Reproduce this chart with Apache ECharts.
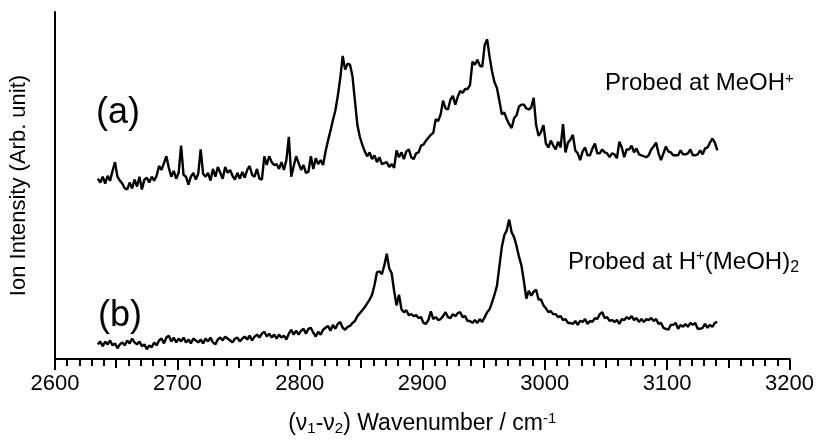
<!DOCTYPE html>
<html>
<head>
<meta charset="utf-8">
<script src="https://cdn.jsdelivr.net/npm/echarts@6/dist/echarts.min.js"></script>
<style>
html,body{margin:0;padding:0;background:#fff;}
#chart{width:817px;height:441px;}
</style>
</head>
<body>
<div id="chart"></div>
<script>
// Wavenumber grid (cm-1)
const wavenumber = [
2635,2637,2639,2641,2643,2645,2647,2649,2651,2653,
2655,2657,2659,2661,2663,2665,2667,2669,2671,2673,
2675,2677,2679,2681,2683,2685,2687,2689,2691,2693,
2695,2697,2699,2701,2703,2705,2707,2709,2711,2713,
2715,2717,2719,2721,2723,2725,2727,2729,2731,2733,
2735,2737,2739,2741,2743,2745,2747,2749,2751,2753,
2755,2757,2759,2761,2763,2765,2767,2769,2771,2773,
2775,2777,2779,2781,2783,2785,2787,2789,2791,2793,
2795,2797,2799,2801,2803,2805,2807,2809,2811,2813,
2815,2817,2819,2821,2823,2825,2827,2829,2831,2833,
2835,2837,2839,2841,2843,2845,2847,2849,2851,2853,
2855,2857,2859,2861,2863,2865,2867,2869,2871,2873,
2875,2877,2879,2881,2883,2885,2887,2889,2891,2893,
2895,2897,2899,2901,2903,2905,2907,2909,2911,2913,
2915,2917,2919,2921,2923,2925,2927,2929,2931,2933,
2935,2937,2939,2941,2943,2945,2947,2949,2951,2953,
2955,2957,2959,2961,2963,2965,2967,2969,2971,2973,
2975,2977,2979,2981,2983,2985,2987,2989,2991,2993,
2995,2997,2999,3001,3003,3005,3007,3009,3011,3013,
3015,3017,3019,3021,3023,3025,3027,3029,3031,3033,
3035,3037,3039,3041,3043,3045,3047,3049,3051,3053,
3055,3057,3059,3061,3063,3065,3067,3069,3071,3073,
3075,3077,3079,3081,3083,3085,3087,3089,3091,3093,
3095,3097,3099,3101,3103,3105,3107,3109,3111,3113,
3115,3117,3119,3121,3123,3125,3127,3129,3131,3133,
3135,3137,3139,3141
];

// (a) Probed at MeOH+ (arb. units, offset trace)
const intensityA = [
185,181,187,180,188,183,193,202,187,183,
180,175,174,181,175,184,177,187,174,184,
186,181,187,183,188,198,194,201,208,196,
187,193,185,191,219,189,187,179,187,191,
184,190,215,190,187,191,183,195,187,197,
191,185,197,191,194,188,184,191,185,192,
186,194,198,189,187,195,185,184,208,199,
208,202,199,200,195,202,194,204,228,187,
198,208,201,194,199,191,192,208,195,206,
200,204,199,213,224,234,245,255,270,288,
311,297,303,302,290,265,240,228,220,213,
208,212,205,209,202,207,200,201,202,197,
200,196,214,207,212,205,213,215,207,205,
211,212,219,220,224,227,230,232,246,244,
251,265,257,256,266,270,261,269,275,273,
277,277,281,305,302,307,301,300,322,328,
310,295,284,278,265,251,253,246,241,237,
247,250,259,261,261,257,256,258,268,240,
229,233,240,221,217,224,219,215,223,217,
241,212,222,225,230,214,211,204,213,217,
209,209,216,221,211,211,215,212,211,207,
211,210,206,223,217,207,215,215,219,212,
216,210,209,208,207,209,215,218,222,211,
204,211,218,213,212,209,209,209,214,210,
210,211,215,209,209,210,214,210,216,217,
222,226,222,214
];

// (b) Probed at H+(MeOH)2
const intensityB = [
15,18,13,18,15,19,14,16,11,15,
17,14,19,16,21,17,15,18,13,15,
10,14,12,17,14,19,21,16,22,24,
18,22,17,21,18,22,17,20,16,21,
19,17,20,16,21,18,22,17,15,20,
22,19,23,21,19,17,21,22,18,21,
23,20,24,19,23,25,22,26,28,23,
26,22,25,21,25,22,24,20,26,30,
25,29,25,29,31,26,31,32,27,23,
28,25,30,32,34,29,35,31,36,38,
32,30,33,34,37,39,44,47,50,53,
57,61,66,76,89,90,87,96,108,93,
88,70,55,66,51,48,50,45,46,44,
45,42,43,37,36,40,49,41,43,40,
41,44,48,43,42,46,44,47,48,43,
44,39,39,37,40,37,41,38,43,48,
51,58,66,75,95,115,127,132,143,130,
125,116,105,96,80,62,70,65,69,71,
61,61,55,52,48,49,46,46,43,44,
40,41,37,37,36,39,35,39,38,41,
36,39,38,42,41,46,48,42,43,39,
40,38,40,36,41,40,43,41,44,40,
42,38,41,38,41,40,42,39,41,36,
37,32,31,30,35,35,37,31,35,33,
36,33,37,35,37,31,31,32,36,32,
35,33,37,38
];

const xTickMin = 2600, xTickMax = 3200;

const FONT = "'Liberation Sans', Arial, sans-serif";
const chart = echarts.init(document.getElementById('chart'), null, {renderer: 'canvas'});

const seriesA = wavenumber.map((w, i) => [w, intensityA[i]]);
const seriesB = wavenumber.map((w, i) => [w, intensityB[i]]);

const option = {
  animation: false,
  backgroundColor: '#fff',
  grid: {left: 52, right: 27, top: 12, bottom: 73, containLabel: false},
  xAxis: [{
    type: 'value', min: xTickMin, max: xTickMax, interval: 100, position: 'bottom',
    axisLine: {show: true, lineStyle: {color: '#000', width: 2}},
    axisTick: {show: true, inside: false, length: 11, lineStyle: {color: '#000', width: 2}},
    minorTick: {show: true, splitNumber: 10, length: 7, lineStyle: {color: '#000', width: 2}},
    axisLabel: {show: true, color: '#000', fontSize: 22, fontFamily: FONT, margin: 14,
      formatter: function (v) { return String(v); }},
    splitLine: {show: false}, minorSplitLine: {show: false},
    name: '(ν{sub|1}-ν{sub|2}) Wavenumber / cm{sup|-1}',
    nameLocation: 'middle', nameGap: 52,
    nameTextStyle: {color: '#000', fontSize: 23, fontFamily: FONT,
      rich: {
        sub: {fontSize: 15, fontFamily: FONT, color: '#000', verticalAlign: 'bottom', padding: [10, 0, 0, 0]},
        sup: {fontSize: 15, fontFamily: FONT, color: '#000', verticalAlign: 'top', padding: [0, 0, 8, 0]}
      }}
  }, {
    type: 'value', min: xTickMin, max: xTickMax, interval: 50, position: 'bottom',
    axisLine: {show: true, lineStyle: {color: '#000', width: 2}},
    axisTick: {show: true, inside: false, length: 9, lineStyle: {color: '#000', width: 2}},
    axisLabel: {show: false}, splitLine: {show: false}
  }],
  yAxis: {
    type: 'value', min: 0, max: 356,
    axisLine: {show: true, lineStyle: {color: '#000', width: 2}},
    axisTick: {show: false}, axisLabel: {show: false}, splitLine: {show: false},
    name: 'Ion Intensity (Arb. unit)', nameLocation: 'middle', nameGap: 25, nameRotate: 90,
    nameTextStyle: {color: '#000', fontSize: 22, fontFamily: FONT}
  },
  series: [{
    name: 'MeOH+', type: 'line', xAxisIndex: 0, data: seriesA, showSymbol: false, symbol: 'none',
    lineStyle: {color: '#000', width: 2.4}, silent: true
  }, {
    name: 'H+(MeOH)2', type: 'line', xAxisIndex: 0, data: seriesB, showSymbol: false, symbol: 'none',
    lineStyle: {color: '#000', width: 2.4}, silent: true
  }],
  graphic: [
    {type: 'text', left: 96, top: 95, style: {text: '(a)', fontSize: 36, fontFamily: FONT, fill: '#000'}},
    {type: 'text', left: 98, top: 298, style: {text: '(b)', fontSize: 36, fontFamily: FONT, fill: '#000'}},
    {type: 'text', left: 605, top: 71, style: {
      text: 'Probed at MeOH{sup|+}', fontSize: 24, fontFamily: FONT, fill: '#000',
      rich: {sup: {fontSize: 15, fontFamily: FONT, fill: '#000', verticalAlign: 'top', padding: [0, 0, 9, 0]}}
    }},
    {type: 'text', left: 568, top: 248, style: {
      text: 'Probed at H{sup|+}(MeOH){sub|2}', fontSize: 24, fontFamily: FONT, fill: '#000',
      rich: {
        sup: {fontSize: 15, fontFamily: FONT, fill: '#000', verticalAlign: 'top', padding: [0, 0, 9, 0]},
        sub: {fontSize: 16, fontFamily: FONT, fill: '#000', verticalAlign: 'bottom', padding: [12, 0, 0, 0]}
      }
    }}
  ]
};
chart.setOption(option);
</script>
</body>
</html>
